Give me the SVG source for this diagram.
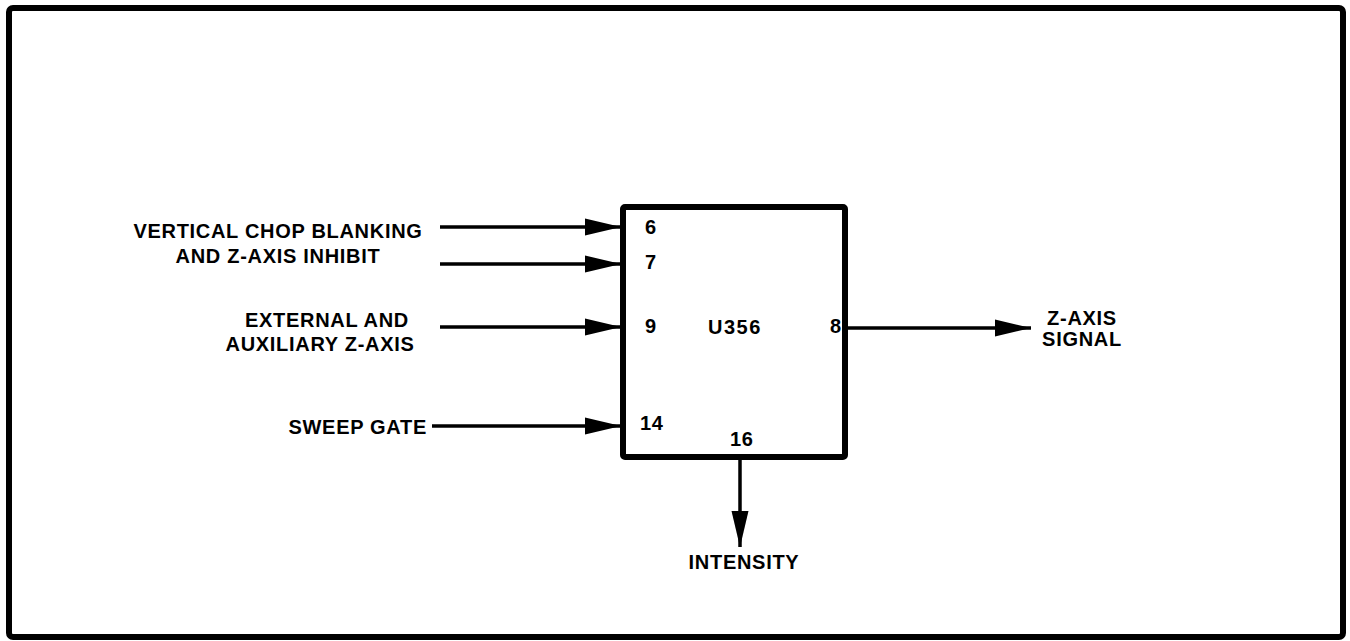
<svg xmlns="http://www.w3.org/2000/svg" width="1350" height="641" viewBox="0 0 1350 641">
<style>
text{font-family:"Liberation Sans",Arial,sans-serif;font-weight:bold;font-size:20px;letter-spacing:0.7px;fill:#000}
.m{text-anchor:middle}
.e{text-anchor:end}
.w{stroke:#000;stroke-width:3.5;fill:none}
</style>
<defs>
<marker id="ah" markerWidth="36" markerHeight="18" refX="36" refY="9" orient="auto" markerUnits="userSpaceOnUse">
<path d="M0,0.5 L36,9 L0,17.5 Z" fill="#000"/>
</marker>
</defs>
<rect x="9" y="8" width="1334" height="629" rx="4" fill="#fff" stroke="#000" stroke-width="6"/>
<g id="connectors">
<line class="w" x1="440" y1="227" x2="621" y2="227" marker-end="url(#ah)"/>
<line class="w" x1="440" y1="264" x2="621" y2="264" marker-end="url(#ah)"/>
<line class="w" x1="440" y1="327" x2="621" y2="327" marker-end="url(#ah)"/>
<line class="w" x1="432" y1="426" x2="621" y2="426" marker-end="url(#ah)"/>
<line class="w" x1="848" y1="328" x2="1031" y2="328" marker-end="url(#ah)"/>
<line class="w" x1="740" y1="460" x2="740" y2="547" marker-end="url(#ah)"/>
</g>
<g id="U356">
<rect x="623" y="207" width="222" height="250" rx="2" fill="none" stroke="#000" stroke-width="6"/>
<text x="708" y="334" style="letter-spacing:1.5px">U356</text>
<text x="645" y="234">6</text>
<text x="645" y="269">7</text>
<text x="645" y="333">9</text>
<text x="640" y="430">14</text>
<text x="730" y="446">16</text>
<text x="830" y="333">8</text>
</g>
<g id="in1">
<text class="m" x="278" y="238">VERTICAL CHOP BLANKING</text>
<text class="m" x="278" y="263">AND Z-AXIS INHIBIT</text>
</g>
<g id="in2">
<text class="m" x="327" y="327">EXTERNAL AND</text>
<text class="m" x="320" y="351">AUXILIARY Z-AXIS</text>
</g>
<g id="in3">
<text class="e" x="427" y="434">SWEEP GATE</text>
</g>
<g id="out">
<text class="m" x="1082" y="325">Z-AXIS</text>
<text class="m" x="1082" y="346">SIGNAL</text>
</g>
<g id="intensity">
<text class="m" x="744" y="569">INTENSITY</text>
</g>
</svg>
